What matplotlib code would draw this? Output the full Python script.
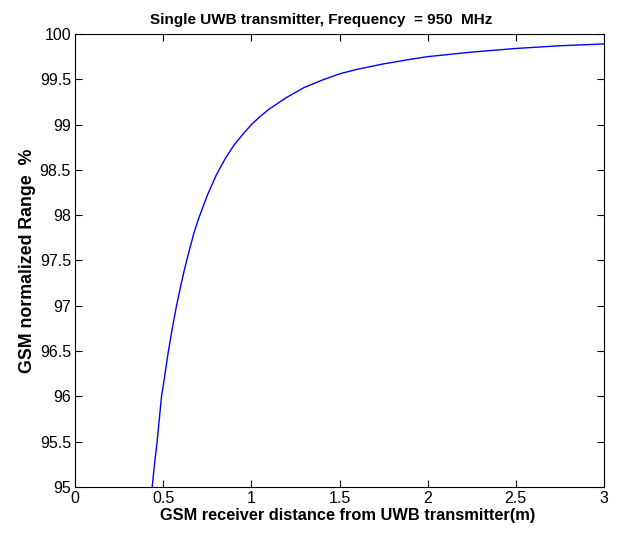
import matplotlib
matplotlib.use('Agg')
import matplotlib.pyplot as plt
from matplotlib.ticker import FormatStrFormatter, MultipleLocator

plt.rcParams['font.family'] = ['Liberation Sans', 'DejaVu Sans']

# values
dist = [0.437, 0.45, 0.465, 0.49, 0.5, 0.525, 0.55, 0.575, 0.6, 0.625, 0.65, 0.675,
        0.7, 0.75, 0.8, 0.85, 0.9, 0.95, 1.0, 1.05, 1.1, 1.2, 1.3, 1.4, 1.5,
        1.6, 1.75, 1.9, 2.0, 2.25, 2.5, 2.75, 3.0]
rng = [95.0, 95.25, 95.5, 96.0, 96.12, 96.45, 96.74, 97.0, 97.23, 97.44, 97.63, 97.81,
       97.96, 98.22, 98.44, 98.62, 98.77, 98.89, 99.0, 99.09, 99.17, 99.3, 99.41,
       99.49, 99.56, 99.61, 99.67, 99.72, 99.75, 99.8, 99.84, 99.87, 99.89]

fig = plt.figure(figsize=(6.37, 5.36), dpi=100)
ax = fig.add_axes([0.118, 0.0914, 0.83, 0.8452])
ax.plot(dist, rng, color='#0000ff', lw=1)

ax.set_xlim(0, 3)
ax.set_ylim(95, 100)
ax.xaxis.set_major_locator(MultipleLocator(0.5))
ax.yaxis.set_major_locator(MultipleLocator(0.5))
ax.xaxis.set_major_formatter(FormatStrFormatter('%g'))
ax.yaxis.set_major_formatter(FormatStrFormatter('%g'))
ax.tick_params(direction='in', top=True, right=True, length=5, labelsize=11.5, pad=3)

ax.set_title('Single UWB transmitter, Frequency  = 950  MHz', fontsize=11,
             fontweight='bold', pad=7, x=0.465)
ax.set_xlabel('GSM receiver distance from UWB transmitter(m)', fontsize=11.8,
              fontweight='bold', labelpad=1, x=0.516)
ax.set_ylabel('GSM normalized Range  %', fontsize=12.8, fontweight='bold', labelpad=3)

fig.savefig('out.png', dpi=100)
